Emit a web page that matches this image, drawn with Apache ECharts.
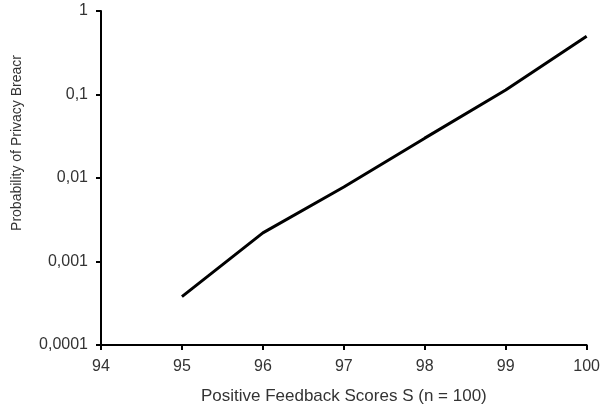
<!DOCTYPE html>
<html>
<head>
<meta charset="utf-8">
<script src="https://cdn.jsdelivr.net/npm/echarts@6/dist/echarts.min.js"></script>
<style>
  html, body { margin: 0; padding: 0; background: #fff; }
  #chart { width: 603px; height: 415px; }
</style>
</head>
<body>
<div id="chart"></div>
<script>
// scores S on the x axis, probability
var scores = [95, 96, 97, 98, 99, 100]
var probability = [0.00038, 0.0022, 0.0078, 0.030, 0.113, 0.50]
var yTickLabels = { 0.0001: '0,0001', 0.001: '0,001', 0.01: '0,01', 0.1: '0,1', 1: '1' }

var chart = echarts.init(document.getElementById('chart'))

var labelFont = {
  fontFamily: 'Liberation Sans, Arial, sans-serif',
  fontSize: 16,
  color: '#333'
}

chart.setOption({
  animation: false,
  grid: {
    left: 101,
    right: 15,
    top: 11,
    bottom: 70
  },
  xAxis: {
    type: 'value',
    min: 94,
    max: 100,
    interval: 1,
    name: 'Positive Feedback Scores S (n = 100)',
    nameLocation: 'middle',
    nameGap: 43,
    nameTextStyle: Object.assign({}, labelFont, { fontSize: 17 }),
    axisLine: { lineStyle: { color: '#000', width: 2 } },
    axisTick: { length: 5, lineStyle: { color: '#000', width: 2 } },
    axisLabel: Object.assign({ margin: 14 }, labelFont),
    splitLine: { show: false }
  },
  yAxis: {
    type: 'log',
    logBase: 10,
    min: 0.0001,
    max: 1,
    name: 'Probability of Privacy Breacr',
    nameLocation: 'middle',
    nameGap: 77,
    nameTextStyle: {
      fontFamily: 'Liberation Sans Narrow, Arial Narrow, sans-serif',
      fontSize: 14,
      color: '#333',
      padding: [0, 0, 0, 70]
    },
    axisLine: { show: true, lineStyle: { color: '#000', width: 2 } },
    axisTick: { show: true, length: 5, lineStyle: { color: '#000', width: 2 } },
    axisLabel: Object.assign({
      margin: 13,
      formatter: function (v) {
        var key = Number(v.toPrecision(3))
        return yTickLabels[key] || String(v).replace('.', ',')
      }
    }, labelFont),
    splitLine: { show: false }
  },
  series: [
    {
      type: 'line',
      data: scores.map(function (s, i) { return [s, probability[i]] }),
      symbol: 'none',
      lineStyle: { color: '#000', width: 3 }
    }
  ]
})
</script>
</body>
</html>
